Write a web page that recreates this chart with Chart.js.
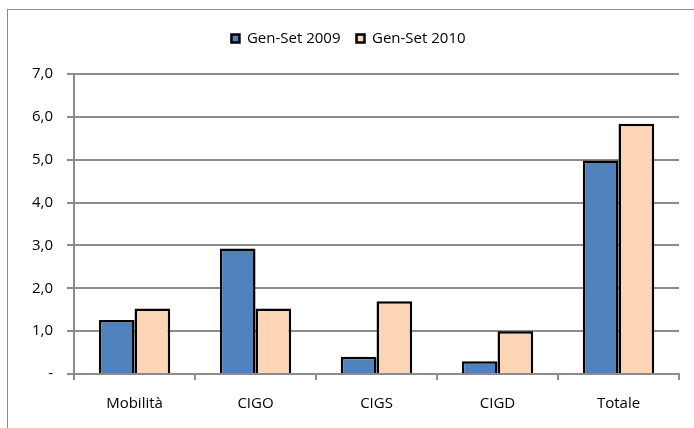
<!DOCTYPE html>
<html>
<head>
<meta charset="utf-8">
<script src="https://cdn.jsdelivr.net/npm/chart.js@4"></script>
<style>
  body { margin: 0; background: #fff; }
  #wrap { position: absolute; left: 0; top: 0; width: 694px; height: 428px; }
  #frame { position: absolute; left: 7px; top: 9px; width: 700px; height: 430px; border: 1.5px solid #8c8c8c; }
</style>
</head>
<body>
<div id="frame"></div>
<div id="wrap"><canvas id="myChart" width="694" height="428"></canvas></div>
<script>
var categories = ['Mobilità', 'CIGO', 'CIGS', 'CIGD', 'Totale'];
var set2009 = [1.26, 2.93, 0.40, 0.30, 4.98];
var set2010 = [1.53, 1.53, 1.70, 1.00, 5.84];

Chart.defaults.font.family = "'Open Sans', 'Liberation Sans', sans-serif";
Chart.defaults.font.size = 15;
Chart.defaults.color = '#000';

// extra room under the legend
var legendGap = {
    id: 'legendGap',
    beforeInit: function (chart) {
        var fit = chart.legend.fit;
        chart.legend.fit = function () {
            fit.bind(chart.legend)();
            this.height += 18;
        };
    }
};

new Chart('myChart', {
    type: 'bar',
    data: {
        labels: categories,
        datasets: [{
            label: 'Gen-Set 2009',
            data: set2009,
            backgroundColor: '#4F81BD',
            borderColor: '#000',
            borderWidth: 2.5,
            categoryPercentage: 0.59,
            barPercentage: 1
        }, {
            label: 'Gen-Set 2010',
            data: set2010,
            backgroundColor: '#FCD5B5',
            borderColor: '#000',
            borderWidth: 2.5,
            categoryPercentage: 0.59,
            barPercentage: 1
        }]
    },
    options: {
        responsive: false,
        animation: false,
        layout: { padding: { left: 18, right: 15, top: 15, bottom: 0 } },
        plugins: {
            legend: {
                position: 'top',
                labels: { boxWidth: 8, boxHeight: 8, padding: 16, font: { size: 15 } }
            },
            tooltip: { enabled: false }
        },
        scales: {
            x: {
                grid: { drawOnChartArea: false, offset: true, color: '#8c8c8c', lineWidth: 2, tickLength: 6 },
                border: { color: '#8c8c8c', width: 2 },
                ticks: { padding: 15 }
            },
            y: {
                min: 0,
                max: 7,
                ticks: {
                    stepSize: 1,
                    padding: 14,
                    callback: function (v) { return v === 0 ? '-' : v.toFixed(1).replace('.', ','); }
                },
                grid: { color: '#8c8c8c', lineWidth: 2, tickLength: 7 },
                border: { color: '#8c8c8c', width: 2 }
            }
        }
    },
    plugins: [legendGap]
});
</script>
</body>
</html>
